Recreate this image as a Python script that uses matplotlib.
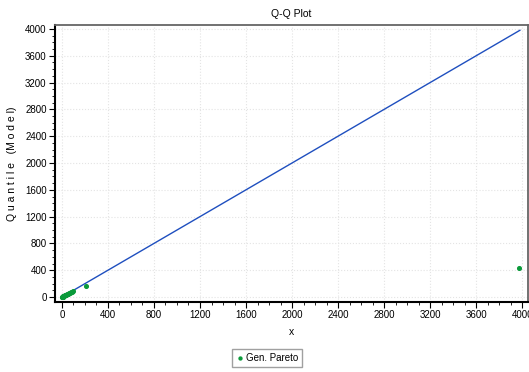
import numpy as np
import matplotlib
matplotlib.use('Agg')
import matplotlib.pyplot as plt
from matplotlib.ticker import MultipleLocator

plt.rcParams['font.family'] = ['Liberation Sans', 'DejaVu Sans']

# empirical quantiles (x) vs model quantiles (y)
x_emp = [2, 4, 6, 8, 10, 13, 16, 20, 24, 28, 33, 38, 44, 50, 57, 64, 72, 80, 90, 100, 210, 3975]
y_mod = [1, 3, 5, 7, 9, 12, 15, 19, 23, 27, 31, 36, 41, 46, 52, 58, 64, 71, 79, 88, 160, 430]
series_name = 'Gen. Pareto'
line_x = [0, 3980]

fig = plt.figure(figsize=(5.29, 3.72), dpi=100)
ax = fig.add_axes([0.104, 0.188, 0.894, 0.745])

ax.plot(line_x, line_x, color='#1f4fbf', lw=1.0, zorder=2)
ax.scatter(x_emp, y_mod, s=7, color='#0a9a3a', zorder=3, label=series_name)

ax.set_xlim(-60, 4050)
ax.set_ylim(-75, 4060)
ax.xaxis.set_major_locator(MultipleLocator(400))
ax.xaxis.set_minor_locator(MultipleLocator(100))
ax.yaxis.set_major_locator(MultipleLocator(400))
ax.yaxis.set_minor_locator(MultipleLocator(100))

ax.grid(True, which='major', color='#e4e4e4', ls=':', lw=0.8)
ax.tick_params(which='major', length=4, width=0.8, labelsize=7, pad=2)
ax.tick_params(which='minor', length=2, width=0.6)

for s in ['left', 'bottom']:
    ax.spines[s].set_linewidth(1.5)
    ax.spines[s].set_color('black')
for s in ['top', 'right']:
    ax.spines[s].set_linewidth(1.3)
    ax.spines[s].set_color('#666666')

ax.set_title('Q-Q Plot', fontsize=7.5, pad=6)
ax.set_xlabel('x', fontsize=7.5, labelpad=5)
ax.set_ylabel('Q u a n t i l e   (M o d e l)', fontsize=7.5, labelpad=6)

fig.legend(loc='center', bbox_to_anchor=(267 / 529, 1 - 358 / 372), fontsize=7,
           frameon=True, fancybox=False, edgecolor='#888888', handletextpad=0.2,
           handlelength=0.8, markerscale=0.8, borderpad=0.45, borderaxespad=0)

fig.savefig('out.png', dpi=100)
